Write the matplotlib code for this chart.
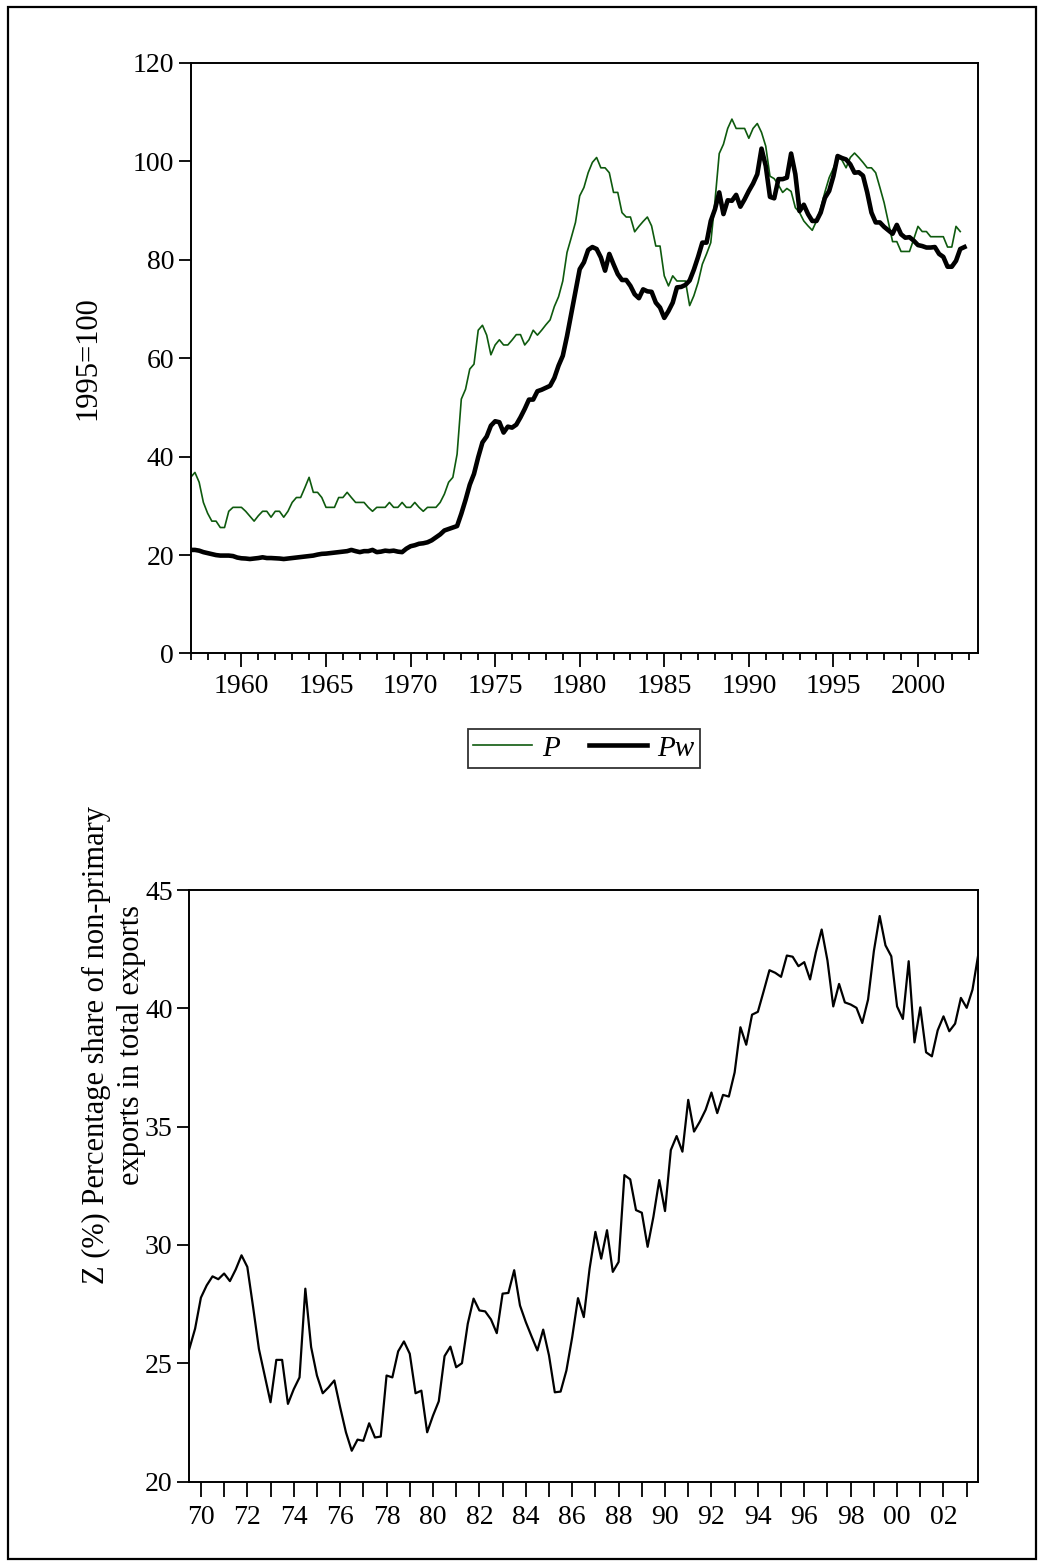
import numpy as np
import matplotlib
matplotlib.use("Agg")
import matplotlib.pyplot as plt
from matplotlib.patches import Rectangle
from matplotlib.ticker import FixedLocator, FixedFormatter

plt.rcParams['font.family'] = ['Liberation Serif', 'DejaVu Serif']

# ---------------- data (quarterly) ----------------
top_start_year = 1957
P = [
    35.8, 36.8, 34.8, 30.7,   # 1957
    28.5, 26.9, 26.9, 25.6,   # 1958
    25.6, 28.9, 29.7, 29.7,   # 1959
    29.7, 28.9, 27.9, 26.9,   # 1960
    28.0, 28.9, 28.9, 27.7,   # 1961
    28.9, 28.9, 27.7, 28.9,   # 1962
    30.7, 31.7, 31.7, 33.7,   # 1963
    35.8, 32.75, 32.75, 31.7, # 1964
    29.7, 29.7, 29.7, 31.7,   # 1965
    31.7, 32.75, 31.7, 30.7,  # 1966
    30.7, 30.7, 29.7, 28.9,   # 1967
    29.7, 29.7, 29.7, 30.7,   # 1968
    29.7, 29.7, 30.7, 29.7,   # 1969
    29.7, 30.7, 29.7, 28.9,   # 1970
    29.7, 29.7, 29.7, 30.7,   # 1971
    32.4, 34.8, 35.8, 40.5,   # 1972
    51.7, 53.7, 57.8, 58.8,   # 1973
    65.7, 66.7, 64.7, 60.7,   # 1974
    62.7, 63.75, 62.7, 62.7,  # 1975
    63.7, 64.8, 64.8, 62.7,   # 1976
    63.75, 65.7, 64.7, 65.7,  # 1977
    66.8, 67.8, 70.5, 72.5,   # 1978
    75.7, 81.5, 84.5, 87.6,   # 1979
    93.0, 94.7, 97.7, 99.8,   # 1980
    100.8, 98.7, 98.7, 97.7,  # 1981
    93.7, 93.7, 89.6, 88.7,   # 1982
    88.7, 85.7, 86.8, 87.8,   # 1983
    88.7, 86.9, 82.8, 82.8,   # 1984
    76.75, 74.7, 76.75, 75.7, # 1985
    75.7, 75.7, 70.7, 72.7,   # 1986
    75.4, 79.1, 81.2, 83.5,   # 1987
    92.0, 101.6, 103.5, 106.7,  # 1988
    108.6, 106.7, 106.7, 106.7, # 1989
    104.7, 106.7, 107.7, 105.9, # 1990
    103.1, 97.0, 96.5, 95.2,  # 1991
    93.7, 94.5, 93.9, 90.6,   # 1992
    89.6, 87.9, 86.9, 86.0,   # 1993
    87.9, 90.5, 93.8, 96.7,   # 1994
    98.6, 100.8, 100.3, 98.7, # 1995
    100.8, 101.7, 100.8, 99.8,  # 1996
    98.7, 98.7, 97.7, 94.7,   # 1997
    91.6, 87.6, 83.7, 83.7,   # 1998
    81.7, 81.7, 81.7, 84.2,   # 1999
    86.8, 85.75, 85.75, 84.7, # 2000
    84.7, 84.7, 84.7, 82.6,   # 2001
    82.6, 86.8, 85.75,        # 2002
]
Pw = [
    21.05, 21.05, 20.9, 20.6,  # 1957
    20.4, 20.2, 20.0, 19.9,    # 1958
    19.9, 19.9, 19.8, 19.5,    # 1959
    19.35, 19.3, 19.2, 19.3,   # 1960
    19.4, 19.55, 19.4, 19.4,   # 1961
    19.35, 19.3, 19.2, 19.3,   # 1962
    19.4, 19.5, 19.6, 19.7,    # 1963
    19.8, 19.9, 20.1, 20.25,   # 1964
    20.3, 20.4, 20.5, 20.6,    # 1965
    20.7, 20.8, 21.05, 20.8,   # 1966
    20.6, 20.8, 20.8, 21.05,   # 1967
    20.6, 20.7, 20.9, 20.8,    # 1968
    20.9, 20.7, 20.6, 21.3,    # 1969
    21.8, 22.0, 22.3, 22.4,    # 1970
    22.6, 23.0, 23.6, 24.2,    # 1971
    25.0, 25.3, 25.6, 25.9,    # 1972
    28.4, 31.2, 34.3, 36.5,    # 1973
    39.9, 42.9, 44.1, 46.3,    # 1974
    47.2, 47.0, 44.9, 46.1,    # 1975
    45.9, 46.5, 48.0, 49.7,    # 1976
    51.6, 51.6, 53.3, 53.6,    # 1977
    54.0, 54.4, 56.0, 58.5,    # 1978
    60.5, 64.5, 69.0, 73.5,    # 1979
    78.1, 79.5, 82.0, 82.6,    # 1980
    82.2, 80.5, 77.8, 81.2,    # 1981
    79.1, 77.1, 75.9, 75.9,    # 1982
    74.7, 73.0, 72.2, 74.0,    # 1983
    73.6, 73.5, 71.3, 70.3,    # 1984
    68.2, 69.6, 71.3, 74.4,    # 1985
    74.5, 74.9, 75.8, 78.0,    # 1986
    80.6, 83.5, 83.5, 87.9,    # 1987
    90.3, 93.7, 89.3, 92.1,    # 1988
    92.0, 93.2, 90.8, 92.3,    # 1989
    94.0, 95.5, 97.4, 102.6,   # 1990
    99.1, 92.8, 92.5, 96.4,    # 1991
    96.4, 96.7, 101.6, 97.4,   # 1992
    89.9, 91.2, 89.3, 87.9,    # 1993
    87.9, 89.6, 92.6, 94.0,    # 1994
    97.0, 101.1, 100.7, 100.4, # 1995
    99.4, 97.7, 97.8, 97.1,    # 1996
    93.7, 89.6, 87.6, 87.6,    # 1997
    86.7, 86.0, 85.3, 87.1,    # 1998
    85.2, 84.5, 84.6, 83.9,    # 1999
    83.0, 82.8, 82.5, 82.5,    # 2000
    82.6, 81.2, 80.6, 78.6,    # 2001
    78.6, 79.8, 82.2, 82.6,    # 2002
]

bottom_start_year = 1969.5
Z = [
    25.6, 26.46,                     # 1969 Q3-Q4
    27.77, 28.29, 28.67, 28.55,      # 1970
    28.79, 28.47, 28.96, 29.56,      # 1971
    29.07, 27.37, 25.6, 24.48,       # 1972
    23.35, 25.14, 25.14, 23.28,      # 1973
    23.9, 24.4, 28.15, 25.68,        # 1974
    24.48, 23.73, 23.98, 24.27,      # 1975
    23.14, 22.08, 21.3, 21.77,       # 1976
    21.72, 22.46, 21.86, 21.9,       # 1977
    24.48, 24.4, 25.5, 25.92,        # 1978
    25.4, 23.73, 23.84, 22.08,       # 1979
    22.78, 23.39, 25.3, 25.7,        # 1980
    24.83, 25.0, 26.67, 27.73,       # 1981
    27.23, 27.19, 26.85, 26.27,      # 1982
    27.94, 27.97, 28.93, 27.44,      # 1983
    26.74, 26.13, 25.54, 26.42,      # 1984
    25.33, 23.77, 23.8, 24.69,       # 1985
    26.1, 27.75, 26.95, 29.0,        # 1986
    30.55, 29.42, 30.62, 28.86,      # 1987
    29.28, 32.95, 32.77, 31.47,      # 1988
    31.36, 29.92, 31.19, 32.74,      # 1989
    31.43, 34.01, 34.6, 33.94,       # 1990
    36.13, 34.79, 35.21, 35.71,      # 1991
    36.44, 35.57, 36.34, 36.27,      # 1992
    37.29, 39.2, 38.46, 39.73,       # 1993
    39.85, 40.72, 41.61, 41.5,       # 1994
    41.33, 42.23, 42.18, 41.78,      # 1995
    41.95, 41.22, 42.37, 43.33,      # 1996
    42.02, 40.08, 41.03, 40.25,      # 1997
    40.16, 40.02, 39.38, 40.37,      # 1998
    42.42, 43.9, 42.66, 42.2,        # 1999
    40.08, 39.55, 41.99, 38.56,      # 2000
    40.04, 38.14, 37.97, 39.07,      # 2001
    39.66, 39.03, 39.35, 40.44,      # 2002
    40.02, 40.79, 42.28,             # 2003
]

top_yticks = [0, 20, 40, 60, 80, 100, 120]
top_xmajor = [1960, 1965, 1970, 1975, 1980, 1985, 1990, 1995, 2000]
bottom_yticks = [20, 25, 30, 35, 40, 45]
bottom_years = list(range(1970, 2004))
bottom_labels = [("%02d" % (y % 100)) if y % 2 == 0 else "" for y in bottom_years]

# ---------------- figure ----------------
W, H = 1044, 1566
fig = plt.figure(figsize=(W / 100, H / 100), dpi=100)
FS = 20
LFS = 22


def px_axes(l, t, r, b):
    return fig.add_axes([l / W, 1 - b / H, (r - l) / W, (b - t) / H])


def style(ax):
    for s in ax.spines.values():
        s.set_linewidth(1.4)
        s.set_color('black')
    ax.tick_params(axis='both', which='both', direction='out', labelsize=FS,
                   width=1.3, color='black', top=False, right=False)
    ax.tick_params(axis='y', which='major', length=9, pad=3)


# Top chart
ax1 = px_axes(190.7, 63, 978, 653.5)
xt = top_start_year + np.arange(len(Pw)) / 4.0
xp = top_start_year + np.arange(len(P)) / 4.0
ax1.plot(xp, P, color='#0e5a0e', lw=1.2, label='P')
ax1.plot(xt, Pw, color='black', lw=3.3, label='Pw', solid_joinstyle='round')
ax1.set_xlim(1957.0, 2003.55)
ax1.set_ylim(0, 120)
ax1.set_yticks(top_yticks)
ax1.set_xticks(top_xmajor)
ax1.set_xticklabels([str(y) for y in top_xmajor])
ax1.xaxis.set_minor_locator(FixedLocator(list(range(1957, 2004))))
style(ax1)
ax1.tick_params(axis='x', which='major', length=10, pad=5)
ax1.tick_params(axis='x', which='minor', length=5)
ax1.set_ylabel('1995=100', fontsize=LFS, labelpad=22)

leg = fig.legend(handles=ax1.get_lines(), labels=['P', 'Pw'], ncol=2,
                 loc='center', bbox_to_anchor=(584 / W, 1 - 748.5 / H),
                 frameon=True, fancybox=False, edgecolor='black',
                 prop={'family': 'Liberation Serif', 'style': 'italic', 'size': 21},
                 handlelength=2.0, handletextpad=0.35, columnspacing=1.0,
                 borderpad=0.2, borderaxespad=0)
leg.get_frame().set_linewidth(1.3)

# Bottom chart
ax2 = px_axes(189.3, 890, 978.3, 1481.5)
xz = bottom_start_year + np.arange(len(Z)) / 4.0
ax2.plot(xz, Z, color='black', lw=1.6)
ax2.set_xlim(1969.5, 2003.5)
ax2.set_ylim(20, 45)
ax2.set_yticks(bottom_yticks)
ax2.xaxis.set_major_locator(FixedLocator(bottom_years))
ax2.xaxis.set_major_formatter(FixedFormatter(bottom_labels))
style(ax2)
ax2.tick_params(axis='x', which='major', length=11, pad=6)
fig.text(96 / W, 1 - 1045 / H, 'Z (%) Percentage share of non-primary',
         rotation=90, ha='center', va='center', fontsize=LFS)
fig.text(131 / W, 1 - 1045 / H, 'exports in total exports',
         rotation=90, ha='center', va='center', fontsize=LFS)

# Outer frame
fig.patches.append(Rectangle((8 / W, 1 - 1559 / H), (1036 - 8) / W, (1559 - 7) / H,
                             transform=fig.transFigure, fill=False,
                             edgecolor='black', linewidth=1.6))

fig.savefig('out.png', dpi=100)
